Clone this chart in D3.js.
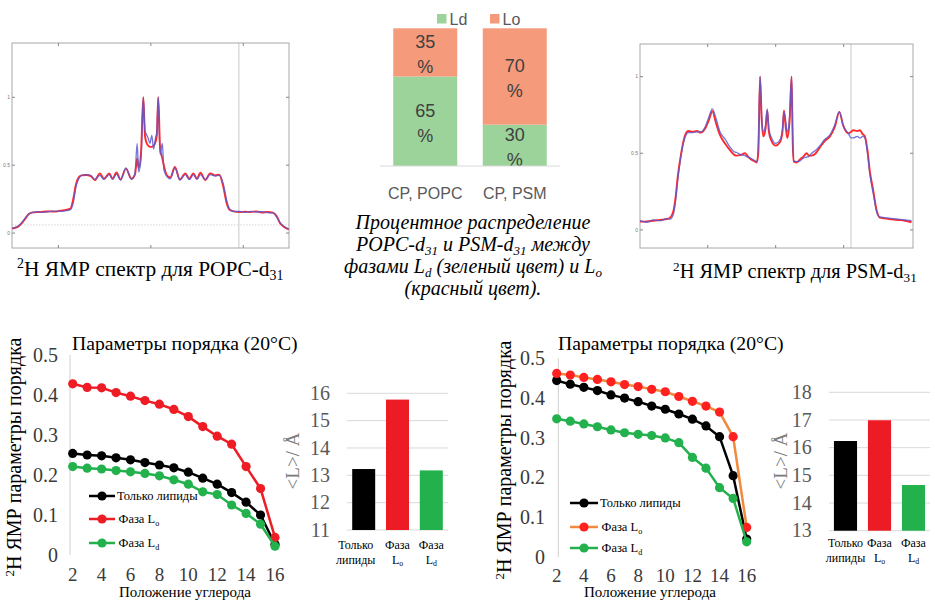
<!DOCTYPE html>
<html><head><meta charset="utf-8">
<script src="https://cdn.jsdelivr.net/npm/d3@7"></script>
<style>body{margin:0;background:#fff}svg{display:block}</style>
</head><body>
<svg id="c" width="935" height="600"></svg>
<script>
// ---------------- DATA ----------------
// Top centre: phase distribution (%)
const phaseCats = ["CP, POPC", "CP, PSM"];
const ldShare = [65, 30];
const loShare = [35, 70];
const phaseLegend = ["Ld", "Lo"];

// 2H NMR spectra (x: arbitrary frequency units, y: normalised intensity)
const popcSpecX = [-75,-72,-70,-68,-66,-64,-61,-58,-55,-52,-49,-46,-43.5,-42,-40.5,-39,-37.5,-35,-32.5,-30.3,-27.6,-25.4,-22.5,-20.7,-18.6,-16.4,-13.5,-10.5,-8.6,-7.4,-6.6,-5.3,-4.1,-3.2,-2.5,-1.5,-0.5,0.5,1.5,2.5,3.2,4.0,5.0,6.2,7.0,8.5,10.5,13,15.7,18.6,20.8,23,24.9,26.8,29.5,32,34.9,37,39.2,41,42.7,45,48,51,54,57,60,63,66,68,70,72,74.6];
const popcSpecRed = [0.034,0.045,0.07,0.105,0.14,0.152,0.155,0.157,0.16,0.158,0.165,0.17,0.18,0.25,0.36,0.41,0.425,0.428,0.42,0.39,0.44,0.40,0.44,0.40,0.446,0.395,0.475,0.40,0.43,0.55,0.48,0.6,1.0,0.72,0.67,0.645,0.635,0.635,0.645,0.67,0.72,1.0,0.62,0.55,0.5,0.43,0.41,0.487,0.395,0.44,0.40,0.44,0.40,0.445,0.39,0.44,0.425,0.43,0.34,0.22,0.17,0.16,0.155,0.158,0.155,0.16,0.152,0.155,0.15,0.125,0.07,0.045,0.027];
const popcSpecBlue = [0.036,0.05,0.075,0.11,0.14,0.15,0.158,0.152,0.158,0.162,0.16,0.165,0.172,0.22,0.34,0.40,0.425,0.43,0.425,0.395,0.425,0.395,0.43,0.395,0.435,0.39,0.48,0.395,0.44,0.66,0.45,0.55,1.0,0.75,0.73,0.70,0.66,0.72,0.62,0.70,0.74,1.0,0.58,0.66,0.47,0.42,0.40,0.48,0.39,0.43,0.395,0.43,0.395,0.43,0.395,0.43,0.42,0.425,0.36,0.24,0.175,0.158,0.16,0.152,0.16,0.155,0.158,0.15,0.148,0.12,0.075,0.05,0.03];

const psmSpecX = [-99.8,-95,-90,-85,-80,-77.7,-75.3,-73.5,-72,-70.4,-68.5,-66.5,-64.2,-61,-58,-55,-52,-49,-46.6,-44,-41,-37,-33.6,-30.5,-28.7,-25.5,-22.6,-20.5,-18.9,-16,-14,-12.8,-11.5,-10.3,-9.1,-7.5,-6.2,-5,-3,0,3,5,6.1,7.5,8.6,10.3,11.7,12.6,13.4,15.5,17.9,20.5,22.8,24.5,26.4,29.5,32.6,36,39.9,43.6,46.8,49.7,53.4,55.5,57,60,62,64,65.6,67.5,69.3,71.7,74.2,76.6,80,85,90,95,99.9];
const psmSpecRed = [0.054,0.056,0.06,0.065,0.07,0.08,0.12,0.22,0.35,0.45,0.55,0.62,0.645,0.64,0.645,0.635,0.66,0.72,0.775,0.70,0.62,0.56,0.52,0.49,0.485,0.49,0.50,0.48,0.465,0.45,0.44,0.50,1.0,0.72,0.61,0.66,0.78,0.64,0.58,0.55,0.57,0.64,0.78,0.66,0.60,0.72,1.0,0.55,0.445,0.44,0.46,0.48,0.50,0.485,0.485,0.50,0.54,0.58,0.61,0.675,0.77,0.68,0.63,0.64,0.65,0.645,0.65,0.625,0.61,0.52,0.38,0.26,0.13,0.08,0.075,0.07,0.065,0.06,0.05];
const psmSpecBlue = [0.06,0.05,0.065,0.06,0.075,0.07,0.10,0.20,0.33,0.44,0.54,0.61,0.635,0.635,0.64,0.64,0.67,0.74,0.79,0.73,0.64,0.59,0.54,0.51,0.505,0.49,0.485,0.475,0.47,0.455,0.445,0.55,1.0,0.74,0.64,0.68,0.79,0.66,0.60,0.565,0.585,0.66,0.77,0.70,0.64,0.75,1.0,0.58,0.45,0.445,0.45,0.47,0.475,0.48,0.50,0.52,0.55,0.59,0.62,0.69,0.77,0.68,0.63,0.60,0.60,0.61,0.60,0.61,0.60,0.50,0.36,0.24,0.12,0.085,0.08,0.075,0.07,0.065,0.06];
const specXTicks = [-50, 0, 50];
const specYTicks = [0, 0.5, 1];
const specYTickLabels = ["0", "0.5", "1"];

// Order parameters (20 °C)
const carbons = [2,3,4,5,6,7,8,9,10,11,12,13,14,15,16];
const carbonTicks = [2,4,6,8,10,12,14,16];
const orderTicks = [0,0.1,0.2,0.3,0.4,0.5];
const orderTickLabels = ["0","0.1","0.2","0.3","0.4","0.5"];
const popcLipid = [0.254,0.250,0.248,0.243,0.238,0.231,0.225,0.218,0.207,0.192,0.177,0.156,0.132,0.100,0.027];
const popcLo    = [0.428,0.419,0.418,0.406,0.397,0.386,0.377,0.364,0.346,0.321,0.297,0.277,0.221,0.166,0.044];
const popcLd    = [0.221,0.217,0.215,0.211,0.208,0.204,0.198,0.188,0.177,0.158,0.151,0.125,0.104,0.077,0.022];
const psmLipid  = [0.444,0.435,0.427,0.419,0.408,0.400,0.391,0.380,0.372,0.360,0.347,0.330,0.303,0.205,0.046];
const psmLo     = [0.462,0.458,0.452,0.447,0.441,0.434,0.429,0.422,0.416,0.404,0.392,0.380,0.365,0.303,0.075];
const psmLd     = [0.348,0.342,0.335,0.328,0.320,0.313,0.309,0.306,0.300,0.288,0.251,0.224,0.175,0.148,0.039];
const seriesNames = [["Только липиды",""],["Фаза L","o"],["Фаза L","d"]];

// <L> bars
const lenCats = [["Только","липиды",""],["Фаза","L","o"],["Фаза","L","d"]];
const popcLen = [13.23, 15.77, 13.18];
const psmLen  = [16.24, 16.99, 14.65];
const popcLenTicks = [11,12,13,14,15,16];
const psmLenTicks  = [13,14,15,16,17,18];

// ---------------- DRAW ----------------
const svg = d3.select("#c");
const SERIF = "'Liberation Serif','Times New Roman',serif";
const SANS = "'Liberation Sans',Arial,sans-serif";

function rich(sel, parts, size) {
  let shift = 0;
  parts.forEach(p => {
    if (p.t === "") return;
    const ts = sel.append("tspan").text(p.t);
    const target = p.sup ? -0.36*size : (p.sub ? 0.2*size : 0);
    if (target - shift !== 0) ts.attr("dy", target - shift);
    shift = target;
    if (p.sup || p.sub) ts.attr("font-size", size*0.65);
  });
  return sel;
}

// ----- spectra -----
function spectrum(box, xDom, yDom, xs, red, blue, vlineX, hlineY) {
  const x = d3.scaleLinear().domain(xDom).range([box.x0, box.x1]);
  const y = d3.scaleLinear().domain(yDom).range([box.y1, box.y0]);
  const g = svg.append("g");
  if (hlineY != null) g.append("line").attr("x1",box.x0).attr("x2",box.x1).attr("y1",y(hlineY)).attr("y2",y(hlineY))
    .attr("stroke","#c8c8c8").attr("stroke-dasharray","1.5,1.5").attr("stroke-width",0.8);
  if (vlineX != null) g.append("line").attr("x1",x(vlineX)).attr("x2",x(vlineX)).attr("y1",box.y0).attr("y2",box.y1)
    .attr("stroke","#c8c8c8").attr("stroke-width",1);
  g.append("rect").attr("x",box.x0).attr("y",box.y0).attr("width",box.x1-box.x0).attr("height",box.y1-box.y0)
    .attr("fill","none").attr("stroke","#a8a8a8").attr("stroke-width",1);
  specXTicks.forEach(t => {
    g.append("line").attr("x1",x(t)).attr("x2",x(t)).attr("y1",box.y1).attr("y2",box.y1-3).attr("stroke","#888");
    g.append("line").attr("x1",x(t)).attr("x2",x(t)).attr("y1",box.y0).attr("y2",box.y0+3).attr("stroke","#888");
  });
  specYTicks.forEach((t,i) => {
    g.append("line").attr("x1",box.x0).attr("x2",box.x0+3).attr("y1",y(t)).attr("y2",y(t)).attr("stroke","#888");
    g.append("line").attr("x1",box.x1).attr("x2",box.x1-3).attr("y1",y(t)).attr("y2",y(t)).attr("stroke","#888");
    g.append("text").attr("x",box.x0-2).attr("y",y(t)).attr("dy","0.35em").attr("text-anchor","end")
      .attr("font-family",SANS).attr("font-size",5).attr("fill","#777").text(specYTickLabels[i]);
  });
  const line = d3.line().x((d,i)=>x(xs[i])).y(d=>y(d)).curve(d3.curveMonotoneX);
  g.append("path").datum(red).attr("d",line).attr("fill","none").attr("stroke","#ff2a2a").attr("stroke-width",1.9);
  g.append("path").datum(blue).attr("d",line).attr("fill","none").attr("stroke","#5a5ad2").attr("stroke-width",1.3).attr("stroke-opacity",0.85);
}
spectrum({x0:12,x1:289,y0:43,y1:248}, [-75.1,74.7], [-0.11,1.40], popcSpecX, popcSpecRed, popcSpecBlue, 47.6, 0.06);
spectrum({x0:640,x1:913,y0:44,y1:248}, [-99.8,101], [-0.118,1.213], psmSpecX, psmSpecRed, psmSpecBlue, 55.4, null);

rich(svg.append("text").attr("x",17).attr("y",276).attr("font-family",SERIF).attr("font-size",21.4).attr("fill","#000"),
  [{t:"2",sup:true},{t:"H ЯМР спектр для POPC-d"},{t:"31",sub:true}], 21.4);
rich(svg.append("text").attr("x",673).attr("y",278).attr("font-family",SERIF).attr("font-size",20.4).attr("fill","#000"),
  [{t:"2",sup:true},{t:"H ЯМР спектр для PSM-d"},{t:"31",sub:true}], 20.4);

// ----- centre stacked bars -----
(function(){
  const g = svg.append("g");
  const x = d3.scaleBand().domain(phaseCats).range([380,560]).paddingInner(0.285).paddingOuter(0.148);
  const y = d3.scaleLinear().domain([0,100]).range([166,28.3]);
  const cGreen = "#9bd39a", cOrange = "#f59a7b";
  phaseCats.forEach((c,i) => {
    const segs = [{v0:0,v1:ldShare[i],col:cGreen,lab:ldShare[i]},{v0:ldShare[i],v1:ldShare[i]+loShare[i],col:cOrange,lab:loShare[i]}];
    segs.forEach(s => {
      g.append("rect").attr("x",x(c)).attr("width",x.bandwidth()).attr("y",y(s.v1)).attr("height",y(s.v0)-y(s.v1)).attr("fill",s.col);
      const cy = (y(s.v0)+y(s.v1))/2 + 2;
      const cx = x(c)+x.bandwidth()/2;
      g.append("text").attr("x",cx).attr("y",cy-12.5).attr("dy","0.35em").attr("text-anchor","middle")
        .attr("font-family",SANS).attr("font-size",18).attr("fill","#404040").text(s.lab);
      g.append("text").attr("x",cx).attr("y",cy+12.5).attr("dy","0.35em").attr("text-anchor","middle")
        .attr("font-family",SANS).attr("font-size",18).attr("fill","#404040").text("%");
    });
    g.append("text").attr("x",x(c)+x.bandwidth()/2).attr("y",199).attr("text-anchor","middle")
      .attr("font-family",SANS).attr("font-size",16).attr("fill","#595959").text(c);
  });
  g.append("line").attr("x1",380).attr("x2",560).attr("y1",166).attr("y2",166).attr("stroke","#d9d9d9");
  // legend
  const lx = [437, 490], cols = [cGreen, cOrange];
  phaseLegend.forEach((t,i) => {
    g.append("rect").attr("x",lx[i]).attr("y",14).attr("width",9.5).attr("height",9.5).attr("fill",cols[i]);
    g.append("text").attr("x",lx[i]+12.5).attr("y",19).attr("dy","0.35em").attr("font-family",SANS)
      .attr("font-size",16).attr("fill","#595959").text(t);
  });
  // caption
  const cap = [
    [{t:"Процентное распределение"}],
    [{t:"POPC-d"},{t:"31",sub:true},{t:" и PSM-d"},{t:"31",sub:true},{t:" между"}],
    [{t:"фазами L"},{t:"d",sub:true},{t:" (зеленый цвет) и L"},{t:"o",sub:true}],
    [{t:"(красный цвет)."}]
  ];
  const base = [229, 251, 273, 295];
  cap.forEach((parts,i) => {
    rich(g.append("text").attr("x",473).attr("y",base[i]).attr("text-anchor","middle").attr("font-family",SERIF)
      .attr("font-style","italic").attr("font-size",20).attr("fill","#000"), parts, 20);
  });
})();

// ----- order parameter line charts -----
function orderChart(o) {
  const g = svg.append("g");
  const x = d3.scaleLinear().domain([2,16]).range(o.xr);
  const y = d3.scaleLinear().domain([0,0.5]).range(o.yr);
  g.append("line").attr("x1",o.axisX).attr("x2",o.axisX).attr("y1",y(0)).attr("y2",y(0.5)).attr("stroke","#d0d0d0");
  orderTicks.forEach((t,i) => g.append("text").attr("x",o.tickX).attr("y",y(t)).attr("dy","0.33em").attr("text-anchor","end")
    .attr("font-family",SERIF).attr("font-size",20).attr("fill","#3a3a3a").text(orderTickLabels[i]));
  carbonTicks.forEach(t => g.append("text").attr("x",x(t)).attr("y",o.xTickY).attr("text-anchor","middle")
    .attr("font-family",SERIF).attr("font-size",19).attr("fill","#3a3a3a").text(t));
  g.append("text").attr("x",o.titleX).attr("y",350).attr("font-family",SERIF).attr("font-size",19.7).attr("fill","#000")
    .text("Параметры порядка (20°C)");
  rich(g.append("text").attr("transform",`translate(${o.yTitleX},${o.yTitleY}) rotate(-90)`).attr("text-anchor","middle")
    .attr("font-family",SERIF).attr("font-size",20).attr("fill","#000"), [{t:"2",sup:true},{t:"H ЯМР параметры порядка"}], 20);
  g.append("text").attr("x",o.xTitleX).attr("y",o.xTitleY).attr("text-anchor","middle").attr("font-family",SERIF)
    .attr("font-size",15).attr("fill","#000").text("Положение углерода");
  const line = d3.line().x((d,i)=>x(carbons[i])).y(d=>y(d));
  o.series.forEach((s,k) => {
    g.append("path").datum(s.vals).attr("d",line).attr("fill","none").attr("stroke",s.line).attr("stroke-width",2.5);
    g.selectAll(null).data(s.vals).enter().append("circle").attr("cx",(d,i)=>x(carbons[i])).attr("cy",d=>y(d))
      .attr("r",4.6).attr("fill",s.dot);
    const ly = o.legY[k];
    g.append("line").attr("x1",o.legX[0]).attr("x2",o.legX[1]).attr("y1",ly).attr("y2",ly).attr("stroke",s.line).attr("stroke-width",2.5);
    g.append("circle").attr("cx",(o.legX[0]+o.legX[1])/2).attr("cy",ly).attr("r",4.6).attr("fill",s.dot);
    rich(g.append("text").attr("x",o.legX[1]+2+(k>0?1.5:0)).attr("y",ly).attr("dy","0.33em").attr("font-family",SERIF)
      .attr("font-size",12.5).attr("fill","#000"), [{t:seriesNames[k][0]},{t:seriesNames[k][1],sub:true}], 12.5);
  });
}
orderChart({xr:[72.7,275], yr:[555,355], axisX:70, tickX:58, xTickY:581, titleX:72, yTitleX:21, yTitleY:457, xTitleX:185, xTitleY:596.5,
  legX:[89,115], legY:[496,519,543],
  series:[{vals:popcLipid,line:"#000",dot:"#000"},{vals:popcLo,line:"#ee1c24",dot:"#ee1c24"},{vals:popcLd,line:"#22b14c",dot:"#22b14c"}]});
orderChart({xr:[556.7,746.7], yr:[557.3,358.3], axisX:558.3, tickX:545, xTickY:581.5, titleX:558, yTitleX:511, yTitleY:460, xTitleX:650, xTitleY:597,
  legX:[570,598], legY:[503,527,548],
  series:[{vals:psmLipid,line:"#000",dot:"#000"},{vals:psmLo,line:"#f08a3c",dot:"#ff2020"},{vals:psmLd,line:"#22b14c",dot:"#22b14c"}]});

// ----- <L> bar charts -----
function lenChart(o) {
  const g = svg.append("g");
  const x = d3.scaleBand().domain(d3.range(lenCats.length)).range(o.xr).paddingInner(0.32).paddingOuter(o.po);
  const y = d3.scaleLinear().domain(o.dom).range(o.yr);
  o.ticks.forEach(t => {
    g.append("line").attr("x1",o.xr[0]).attr("x2",o.xr[1]).attr("y1",y(t)).attr("y2",y(t)).attr("stroke","#d9d9d9");
    g.append("text").attr("x",o.tickX).attr("y",y(t)).attr("dy","0.33em").attr("text-anchor","end")
      .attr("font-family",SERIF).attr("font-size",20).attr("fill","#595959").text(t);
  });
  const cols = ["#000","#ed1c24","#22b14c"];
  o.vals.forEach((v,i) => {
    g.append("rect").attr("x",x(i)).attr("width",x.bandwidth()).attr("y",y(v)).attr("height",y(o.dom[0])-y(v)).attr("fill",cols[i]);
    const cx = x(i)+x.bandwidth()/2 + (i===0 ? o.shift0 : 0);
    g.append("text").attr("x",cx).attr("y",o.labY).attr("text-anchor","middle").attr("font-family",SERIF)
      .attr("font-size",12).attr("fill","#000").text(lenCats[i][0]);
    rich(g.append("text").attr("x",cx).attr("y",o.labY+15).attr("text-anchor","middle").attr("font-family",SERIF)
      .attr("font-size",12).attr("fill","#000"), [{t:lenCats[i][1]},{t:lenCats[i][2],sub:true}], 12);
  });
  g.append("text").attr("transform",`translate(${o.titleX},461) rotate(-90)`).attr("text-anchor","middle")
    .attr("font-family",SERIF).attr("font-size",19).attr("fill","#7a7a7a").text("<L>/ Å");
}
lenChart({xr:[346.7,448.3], po:0.163, dom:[11,16], yr:[530,393.3], ticks:popcLenTicks, vals:popcLen, tickX:330, labY:549, shift0:-8, titleX:299});
lenChart({xr:[829,930], po:0.145, dom:[13,18], yr:[530.7,392.3], ticks:psmLenTicks, vals:psmLen, tickX:811.7, labY:547, shift0:0, titleX:787});
</script>
</body></html>
